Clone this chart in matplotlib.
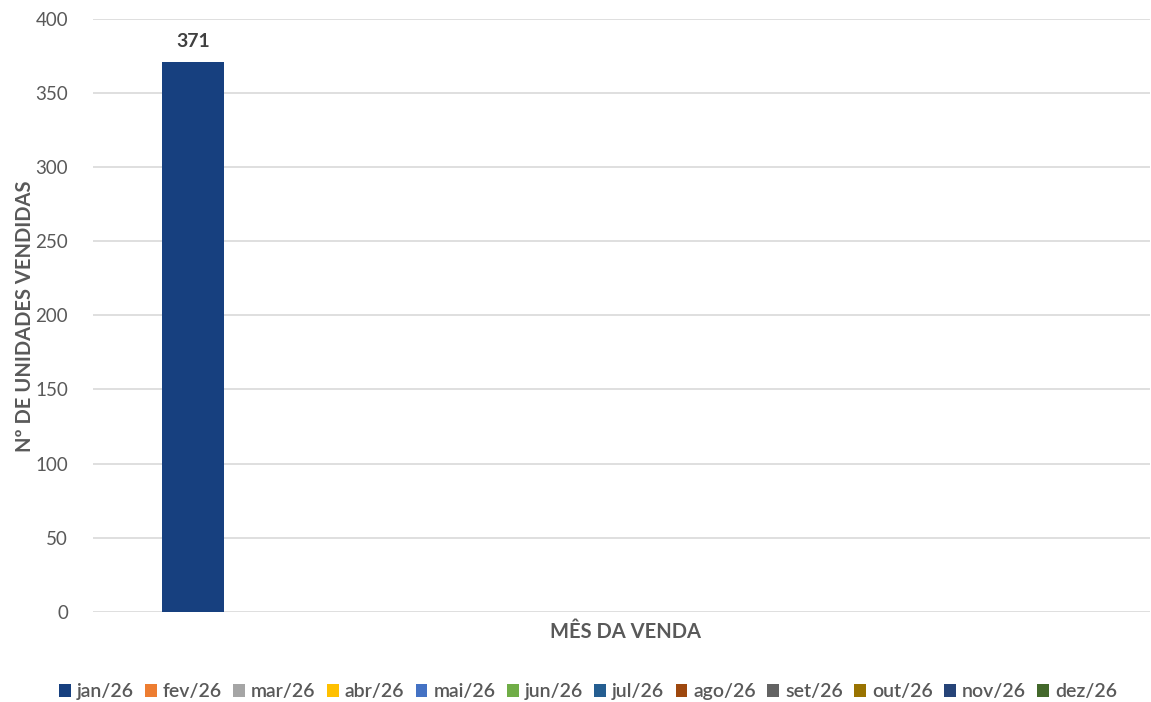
import matplotlib
matplotlib.use("Agg")
import matplotlib.pyplot as plt
from matplotlib.patches import Patch

months = ["jan/26", "fev/26", "mar/26", "abr/26", "mai/26", "jun/26",
          "jul/26", "ago/26", "set/26", "out/26", "nov/26", "dez/26"]
values = [371, 0, 0, 0, 0, 0, 0, 0, 0, 0, 0, 0]
colors = ["#17407F", "#ED7D31", "#A5A5A5", "#FFC000", "#4472C4", "#70AD47",
          "#255E91", "#9E480E", "#636363", "#997300", "#264478", "#43682B"]
y_ticks = [0, 50, 100, 150, 200, 250, 300, 350, 400]

plt.rcParams['font.family'] = ['Lato', 'DejaVu Sans']

fig = plt.figure(figsize=(11.51, 7.02), dpi=100)
ax = fig.add_axes([93/1151, 1-612/702, 1057/1151, (612-18.5)/702])

spacing = 0.0737
width = 0.0590
for i, (m, v, c) in enumerate(zip(months, values, colors)):
    x = (i - 5.5) * spacing
    if v:
        ax.bar(x, v, width=width, color=c, zorder=3)
        ax.text(x, v + 8, str(v), ha='center', va='bottom', fontsize=14,
                fontweight='bold', color='#404040')

ax.set_xlim(-0.5, 0.5)
ax.set_ylim(0, 400)
ax.set_yticks(y_ticks)
ax.set_xticks([])
ax.grid(axis='y', color='#D9D9D9', linewidth=1.2, zorder=0)
for s in ax.spines.values():
    s.set_visible(False)
ax.tick_params(axis='y', length=0, pad=18, labelsize=13.5, labelcolor='#595959')

fig.text(25/1151, 1-316/702, "Nº DE UNIDADES VENDIDAS", rotation=90,
         ha='center', va='center', fontsize=14.5, fontweight='bold', color='#595959')
fig.text(625/1151, 1-632/702, "MÊS DA VENDA", ha='center', va='center',
         fontsize=14.5, fontweight='bold', color='#595959')

handles = [Patch(facecolor=c, edgecolor='none') for c in colors]
fig.legend(handles, months, loc='center', bbox_to_anchor=(588/1151, 1-692/702),
           ncol=12, frameon=False, handlelength=0.6, handleheight=0.6,
           handletextpad=0.3, columnspacing=0.6, labelcolor='#595959',
           prop={'size': 14, 'weight': 'semibold'})

fig.savefig("out.png", dpi=100)
